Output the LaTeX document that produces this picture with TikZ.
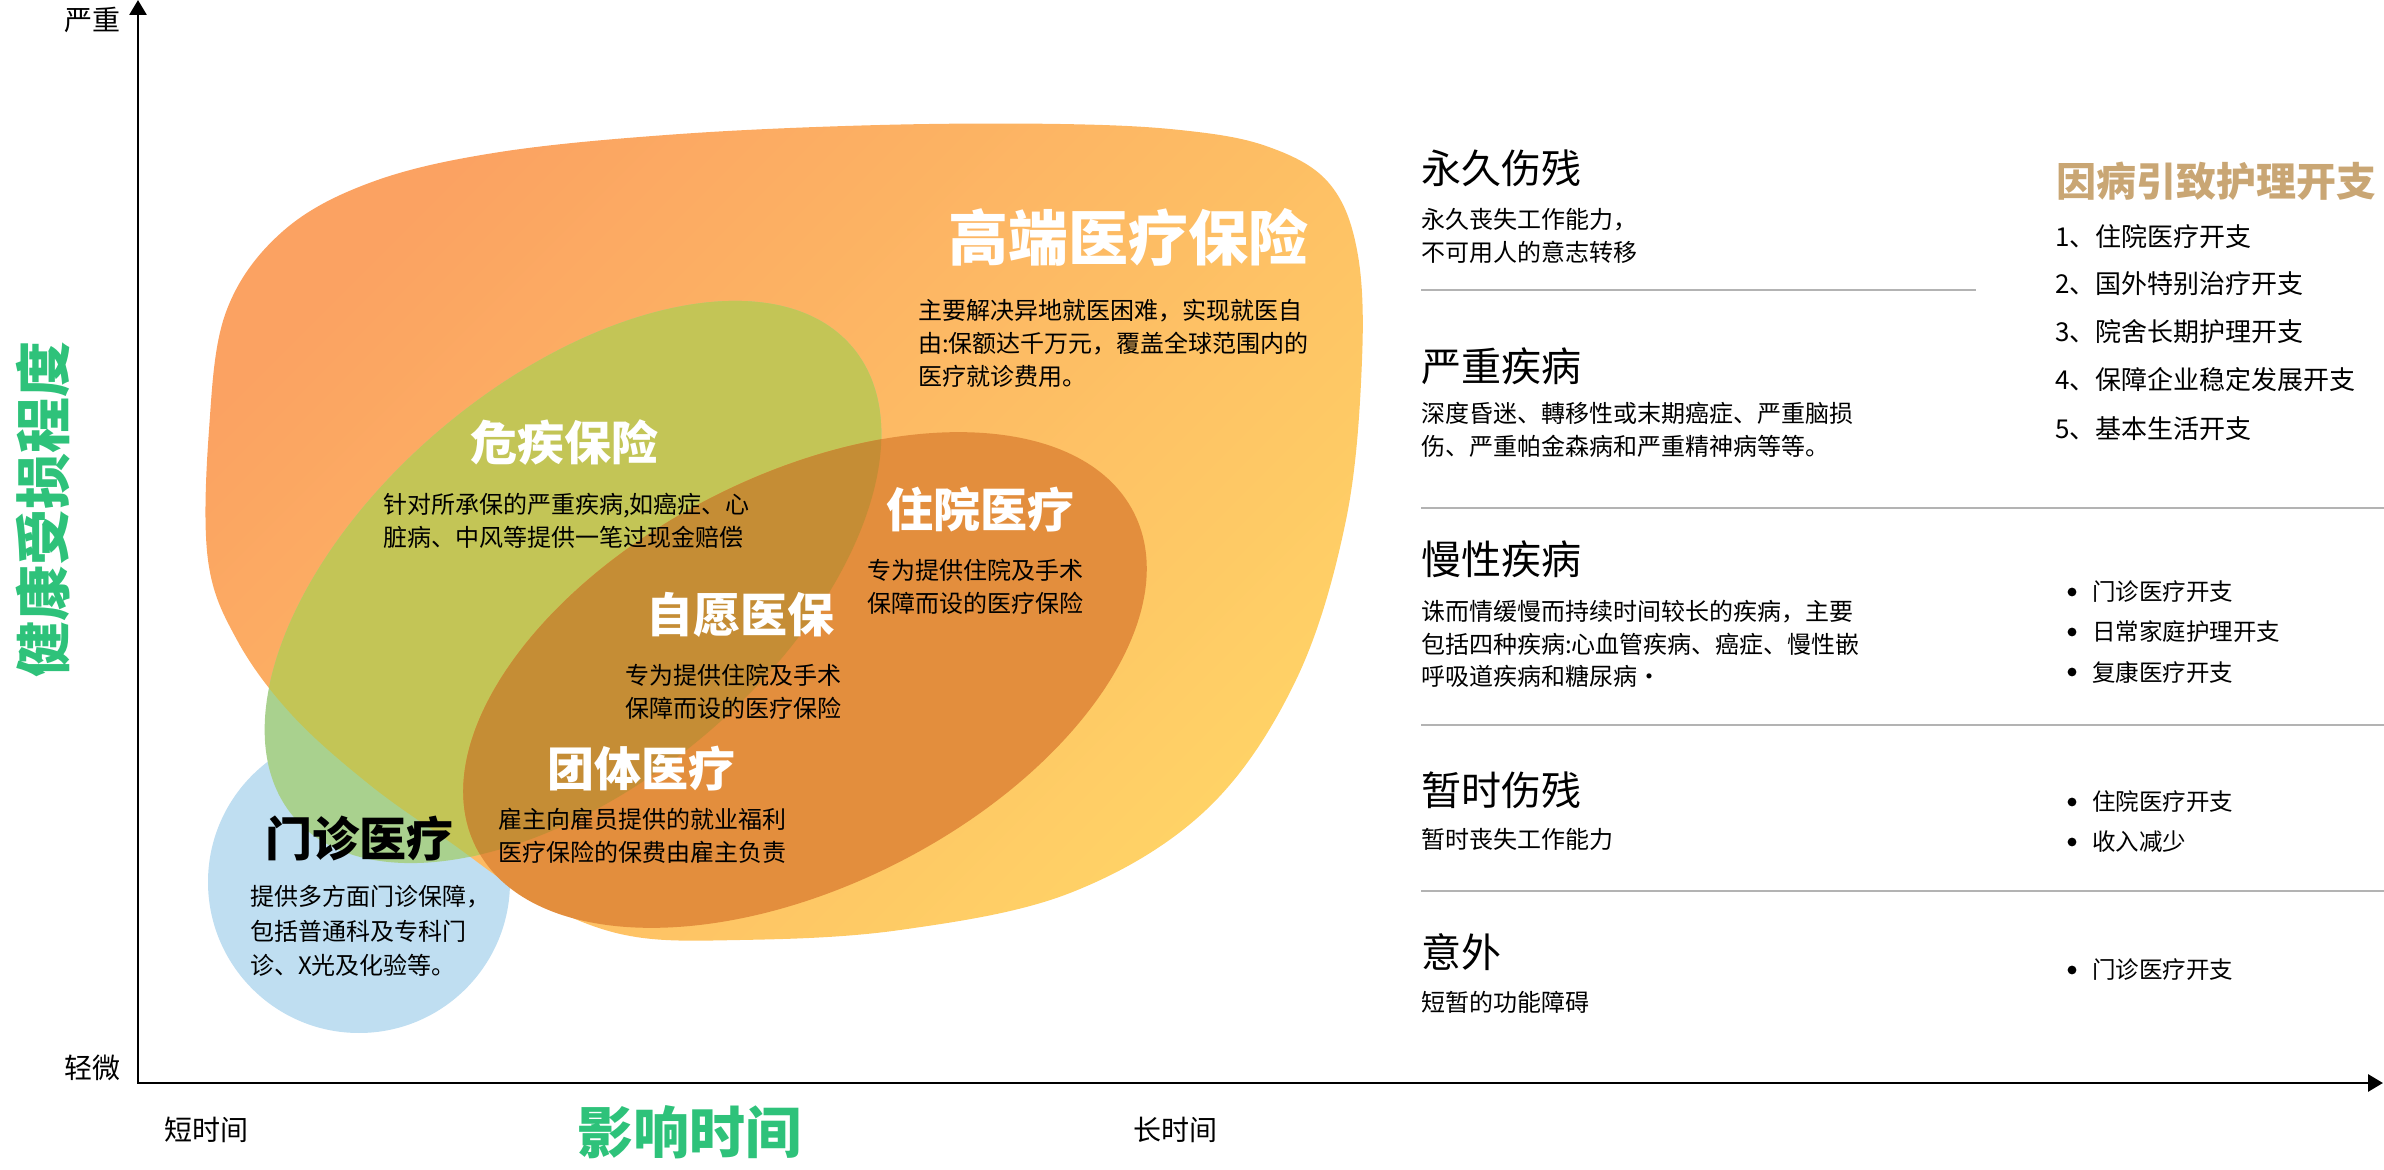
\documentclass[tikz,border=0pt]{standalone}
\usepackage{fontspec}
\setmainfont{Noto Sans CJK SC}
\usetikzlibrary{arrows.meta}
\definecolor{blobA}{HTML}{FBA262}
\definecolor{blobB}{HTML}{FFD266}
\definecolor{lblue}{HTML}{BFDEF1}
\definecolor{lgreen}{HTML}{A9D18E}
\definecolor{gOlive}{HTML}{C3C556}
\definecolor{oEll}{HTML}{E38E3D}
\definecolor{brownX}{HTML}{C58D35}
\definecolor{labgreen}{HTML}{2EC27A}
\definecolor{tanC}{HTML}{C9A674}
\definecolor{sepgrey}{HTML}{B3B3B3}
\newcommand{\blobplot}{plot[smooth cycle, tension=0.6] coordinates {(208,560) (209,430) (226,312) (282,232) (372,182) (500,152) (680,134) (880,125) (1060,124) (1180,130) (1266,146) (1328,182) (1357,250) (1362,360) (1346,520) (1296,680) (1206,810) (1070,893) (900,930) (740,940) (625,935) (530,897) (450,842) (370,785) (292,715) (237,640)}}
\begin{document}
\begin{tikzpicture}[x=0.5pt,y=-0.5pt,
  lbl/.style={inner sep=0pt, outer sep=0pt},
  axlbl/.style={lbl, font=\fontsize{14}{16}\selectfont},
  axtitle/.style={lbl, text=labgreen, font=\fontsize{28}{32}\selectfont\bfseries},
  ovaltitle/.style={lbl, text=white, font=\fontsize{23.5}{28}\selectfont\bfseries},
  ovaldesc/.style={lbl, anchor=west, align=left, font=\fontsize{12}{16.5}\selectfont},
  rtitle/.style={lbl, anchor=west, font=\fontsize{20}{24}\selectfont},
  rdesc/.style={lbl, anchor=west, align=left, font=\fontsize{12}{16.3}\selectfont},
  costhead/.style={lbl, anchor=west, text=tanC, font=\fontsize{20}{24}\selectfont\bfseries},
  costitem/.style={lbl, anchor=west, font=\fontsize{13}{15}\selectfont},
  bulitem/.style={lbl, anchor=west, font=\fontsize{11.75}{14}\selectfont},
  bdot/.style={circle, fill=black, inner sep=0pt, minimum size=4.4pt},
  sepline/.style={draw=sepgrey, line width=0.75pt},
  axisline/.style={line width=1.4pt, line join=miter,
    {Triangle[length=7.5pt,width=8.5pt]}-{Triangle[length=7.5pt,width=8.5pt]}}
]
\useasboundingbox (0,0) rectangle (2384,1170);

% ---------- shapes ----------
\fill[lblue] (359,882) circle[radius=75.5pt];
\shade[top color=blobA, bottom color=blobB, shading angle=45] \blobplot;
\fill[lgreen, shift={(573,582)}, rotate=40] (0,0) ellipse [x radius=182.5pt, y radius=101pt];
\begin{scope}
  \clip \blobplot;
  \fill[gOlive, shift={(573,582)}, rotate=40] (0,0) ellipse [x radius=182.5pt, y radius=101pt];
\end{scope}
\fill[oEll, shift={(805,680)}, rotate=27] (0,0) ellipse [x radius=184.5pt, y radius=102.5pt];
\begin{scope}
  \clip[shift={(573,582)}, rotate=40] (0,0) ellipse [x radius=182.5pt, y radius=101pt];
  \fill[brownX, shift={(805,680)}, rotate=27] (0,0) ellipse [x radius=184.5pt, y radius=102.5pt];
\end{scope}

% ---------- axes ----------
\coordinate (O) at (138,1083);
\coordinate (ytip) at (138,0);
\coordinate (xtip) at (2383,1083);
\draw[axisline] (ytip) -- (O) -- (xtip);
\node[axlbl] (sev) at (92,20) {严重};
\node[axlbl] (mild) at (92,1068) {轻微};
\node[axlbl] (short) at (206,1130) {短时间};
\node[axlbl] (long) at (1175,1130) {长时间};
\node[axtitle] (xt) at (689,1132) {影响时间};
\node[axtitle, rotate=90] (yt) at (43,510) {健康受损程度};

% ---------- oval texts ----------
\node[lbl, text=white, font=\fontsize{30}{34}\selectfont\bfseries] (hi) at (1128,237) {高端医疗保险};
\node[ovaldesc] (hid) at (918,343) {主要解决异地就医困难，实现就医自\\由:保额达千万元，覆盖全球范围内的\\医疗就诊费用。};
\node[ovaltitle] (ci) at (564,443) {危疾保险};
\node[ovaldesc] (cid) at (383,521) {针对所承保的严重疾病,如癌症、心\\脏病、中风等提供一笔过现金赔偿};
\node[ovaltitle] (hosp) at (980,509) {住院医疗};
\node[ovaldesc] (hospd) at (867,587) {专为提供住院及手术\\保障而设的医疗保险};
\node[ovaltitle] (vol) at (740,615) {自愿医保};
\node[ovaldesc] (vold) at (625,692) {专为提供住院及手术\\保障而设的医疗保险};
\node[ovaltitle] (grp) at (641,769) {团体医疗};
\node[ovaldesc] (grpd) at (498,836) {雇主向雇员提供的就业福利\\医疗保险的保费由雇主负责};
\node[ovaltitle, text=black] (op) at (359,838) {门诊医疗};
\node[ovaldesc, font=\fontsize{12}{17.25}\selectfont] (opd) at (250,931) {提供多方面门诊保障，\\包括普通科及专科门\\诊、X光及化验等。};

% ---------- right column: categories ----------
\node[rtitle] (r1) at (1421,168) {永久伤残};
\node[rdesc] (r1d) at (1421,236) {永久丧失工作能力，\\不可用人的意志转移};
\coordinate (s1a) at (1421,290); \coordinate (s1b) at (1976,290);
\draw[sepline] (s1a) -- (s1b);
\node[rtitle] (r2) at (1421,366) {严重疾病};
\node[rdesc] (r2d) at (1421,430) {深度昏迷、轉移性或末期癌症、严重脑损\\伤、严重帕金森病和严重精神病等等。};
\coordinate (s2a) at (1421,508); \coordinate (s2b) at (2384,508);
\draw[sepline] (s2a) -- (s2b);
\node[rtitle] (r3) at (1421,559) {慢性疾病};
\node[rdesc] (r3d) at (1421,644) {诛而情缓慢而持续时间较长的疾病，主要\\包括四种疾病:心血管疾病、癌症、慢性嵌\\呼吸道疾病和糖尿病·};
\coordinate (s3a) at (1421,725); \coordinate (s3b) at (2384,725);
\draw[sepline] (s3a) -- (s3b);
\node[rtitle] (r4) at (1421,790) {暂时伤残};
\node[rdesc] (r4d) at (1421,839) {暂时丧失工作能力};
\coordinate (s4a) at (1421,891); \coordinate (s4b) at (2384,891);
\draw[sepline] (s4a) -- (s4b);
\node[rtitle] (r5) at (1421,952) {意外};
\node[rdesc] (r5d) at (1421,1002) {短暂的功能障碍};

% ---------- right column: costs ----------
\node[costhead] (ch) at (2056,181) {因病引致护理开支};
\node[costitem] (c1) at (2055,237) {1、住院医疗开支};
\node[costitem] (c2) at (2055,284) {2、国外特别治疗开支};
\node[costitem] (c3) at (2055,332) {3、院舍长期护理开支};
\node[costitem] (c4) at (2055,380) {4、保障企业稳定发展开支};
\node[costitem] (c5) at (2055,429) {5、基本生活开支};

\node[bdot] (d1) at (2072,592) {};
\node[bulitem] (b1) at (2092,592) {门诊医疗开支};
\node[bdot] (d2) at (2072,632) {};
\node[bulitem] (b2) at (2092,632) {日常家庭护理开支};
\node[bdot] (d3) at (2072,672) {};
\node[bulitem] (b3) at (2092,672) {复康医疗开支};
\node[bdot] (d4) at (2072,802) {};
\node[bulitem] (b4) at (2092,802) {住院医疗开支};
\node[bdot] (d5) at (2072,842) {};
\node[bulitem] (b5) at (2092,842) {收入减少};
\node[bdot] (d6) at (2072,970) {};
\node[bulitem] (b6) at (2092,970) {门诊医疗开支};
\end{tikzpicture}
\end{document}
